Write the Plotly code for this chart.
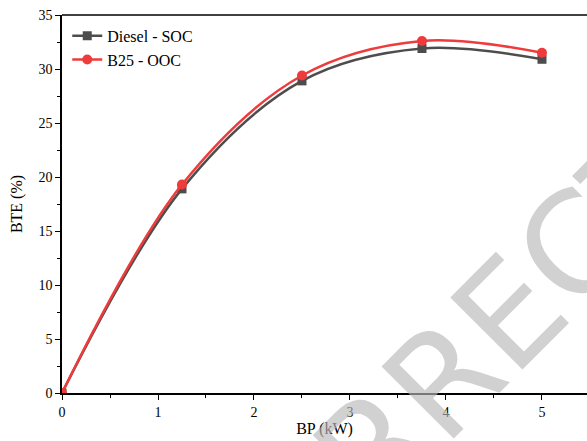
import plotly.graph_objects as go

bp = [0, 1.25, 2.5, 3.75, 5]
diesel_soc = [0, 18.9, 28.9, 31.9, 30.9]
b25_ooc = [0, 19.3, 29.4, 32.6, 31.5]

font_family = "Liberation Serif"

fig = go.Figure()
fig.add_trace(go.Scatter(
    x=bp, y=diesel_soc, name="Diesel - SOC", mode="lines+markers",
    line=dict(color="#4d4d4d", width=2.5, shape="spline", smoothing=1),
    marker=dict(symbol="square", size=9, color="#4d4d4d"),
))
fig.add_trace(go.Scatter(
    x=bp, y=b25_ooc, name="B25 - OOC", mode="lines+markers",
    line=dict(color="#ee3b3b", width=2.5, shape="spline", smoothing=1),
    marker=dict(symbol="circle", size=10, color="#ee3b3b"),
))

fig.add_annotation(
    text="CORRECTED", xref="paper", yref="paper", x=0.838, y=0.19,
    xanchor="center", yanchor="middle",
    showarrow=False, textangle=-45,
    font=dict(family="DejaVu Sans", size=140, color="rgba(185,185,185,0.65)"),
)

fig.add_shape(type="line", xref="paper", yref="paper", x0=0, x1=1, y0=1, y1=1,
              line=dict(color="black", width=1.5))

axis_common = dict(
    showgrid=False, zeroline=False, showline=True, linecolor="black", linewidth=1.5,
    ticks="outside", ticklen=5, tickwidth=1.2, tickcolor="black",
    tickfont=dict(family=font_family, size=14, color="black"),
)

fig.update_layout(
    width=587, height=441,
    margin=dict(l=62, r=0, t=15, b=48),
    plot_bgcolor="white", paper_bgcolor="white",
    showlegend=True,
    legend=dict(x=0.01, y=0.99, xanchor="left", yanchor="top",
                font=dict(family=font_family, size=16, color="black"),
                bgcolor="rgba(0,0,0,0)", tracegroupgap=0, itemwidth=30),
    xaxis=dict(range=[0, 5.469], tickvals=[0, 1, 2, 3, 4, 5],
               minor=dict(dtick=0.5, tick0=0, ticks="outside", ticklen=3, tickcolor="black"),
               title=dict(text="BP (kW)", font=dict(family=font_family, size=16, color="black"), standoff=4),
               **axis_common),
    yaxis=dict(range=[0, 35], tickvals=[0, 5, 10, 15, 20, 25, 30, 35],
               minor=dict(dtick=2.5, tick0=0, ticks="outside", ticklen=3, tickcolor="black"),
               title=dict(text="BTE (%)", font=dict(family=font_family, size=16, color="black"), standoff=12),
               **axis_common),
)

fig.write_html("out.html")
